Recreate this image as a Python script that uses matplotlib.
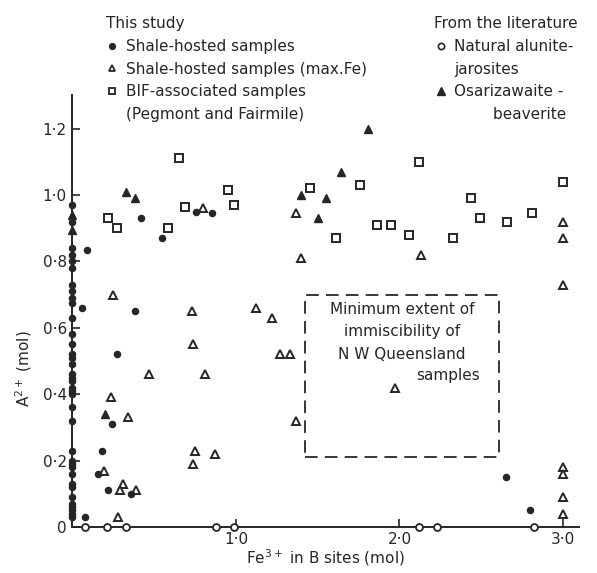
import matplotlib
matplotlib.use("Agg")
import matplotlib.pyplot as plt
from matplotlib.ticker import FuncFormatter
from matplotlib.lines import Line2D
from matplotlib.patches import Rectangle

INK = "#262626"

# This study: shale-hosted samples (filled circles)
shale_x = [0, 0, 0, 0, 0, 0, 0, 0, 0, 0, 0, 0, 0, 0, 0, 0, 0, 0, 0, 0,
           0, 0, 0, 0, 0, 0, 0, 0, 0, 0, 0, 0, 0, 0, 0, 0, 0,
           0.09, 0.06, 0.42, 0.55, 0.38, 0.755, 0.855, 0.27, 0.18, 0.24,
           0.155, 0.22, 0.36, 0.077, 2.65, 2.80]
shale_y = [0.97, 0.92, 0.84, 0.82, 0.80, 0.78, 0.73, 0.71, 0.69, 0.675,
           0.63, 0.58, 0.55, 0.52, 0.51, 0.49, 0.46, 0.45, 0.44, 0.42,
           0.41, 0.40, 0.36, 0.32, 0.23, 0.20, 0.19, 0.18, 0.16, 0.13,
           0.12, 0.09, 0.07, 0.06, 0.05, 0.04, 0.03,
           0.835, 0.66, 0.93, 0.87, 0.65, 0.95, 0.945, 0.52, 0.23, 0.31,
           0.16, 0.11, 0.10, 0.03, 0.15, 0.05]

# This study: shale-hosted samples, max. Fe (open triangles)
maxfe_x = [0.25, 0.73, 0.74, 0.47, 0.235, 0.34, 0.19, 0.31, 0.29, 0.39,
           0.28, 0.75, 0.74, 0.87, 0.80, 1.37, 1.40, 1.12, 1.22, 1.27,
           1.33, 0.81, 1.37, 1.97, 2.13, 3.0, 3.0, 3.0, 3.0, 3.0, 3.0, 3.0]
maxfe_y = [0.70, 0.65, 0.55, 0.46, 0.39, 0.33, 0.17, 0.13, 0.11, 0.11,
           0.03, 0.23, 0.19, 0.22, 0.96, 0.945, 0.81, 0.66, 0.63, 0.52,
           0.52, 0.46, 0.32, 0.42, 0.82, 0.92, 0.87, 0.73, 0.18, 0.16,
           0.09, 0.04]

# This study: BIF-associated samples (open squares)
bif_x = [0.65, 0.22, 0.27, 0.585, 0.69, 0.95, 0.99, 1.45, 1.76, 1.61,
         1.86, 1.95, 2.12, 3.0, 2.44, 2.49, 2.66, 2.81, 2.06, 2.33]
bif_y = [1.11, 0.93, 0.90, 0.90, 0.965, 1.015, 0.97, 1.02, 1.03, 0.87,
         0.91, 0.91, 1.10, 1.04, 0.99, 0.93, 0.92, 0.945, 0.88, 0.87]

# Literature: natural alunite-jarosites (open circles)
alun_x = [0.076, 0.21, 0.33, 0.88, 0.99, 2.12, 2.23, 2.82]
alun_y = [0, 0, 0, 0, 0, 0, 0, 0]

# Literature: osarizawaite-beaverite (filled triangles)
osar_x = [0.33, 0.38, 1.81, 1.64, 1.40, 1.55, 1.50, 0.20, 0.0, 0.0]
osar_y = [1.01, 0.99, 1.20, 1.07, 1.00, 0.99, 0.93, 0.34, 0.94, 0.895]

# immiscibility box (Fe range, A range)
box_fe = [1.42, 2.61]
box_a = [0.21, 0.70]

y_ticks = [0, 0.2, 0.4, 0.6, 0.8, 1.0, 1.2]
x_ticks = [1.0, 2.0, 3.0]

plt.rcParams["font.family"] = ["DejaVu Sans"]

fig = plt.figure(figsize=(5.97, 5.73), dpi=100)
fig.set_facecolor("white")
ax = fig.add_axes([0.1077, 0.0688, 0.8764, 0.7763])
ax.set_xlim(-0.05, 3.15)
ax.set_ylim(-0.02, 1.32)

for side in ["top", "right"]:
    ax.spines[side].set_visible(False)
ax.spines["left"].set_position(("data", 0))
ax.spines["bottom"].set_position(("data", 0))
ax.spines["left"].set_bounds(0, 1.3)
ax.spines["bottom"].set_bounds(0, 3.1)
for side in ["left", "bottom"]:
    ax.spines[side].set_color(INK)
    ax.spines[side].set_linewidth(1.4)

ax.set_xticks(x_ticks)
ax.set_yticks(y_ticks)
dot_fmt = FuncFormatter(lambda v, pos: "0" if v == 0 else f"{v:.1f}".replace(".", "·"))
ax.xaxis.set_major_formatter(dot_fmt)
ax.yaxis.set_major_formatter(dot_fmt)
ax.tick_params(direction="in", length=6, width=1.2, color=INK,
               labelcolor=INK, labelsize=11)
ax.tick_params(axis="y", pad=4)
ax.tick_params(axis="x", pad=4)

ms = dict(color=INK, linestyle="none", clip_on=False)
ax.plot(shale_x, shale_y, marker="o", markersize=4.4, **ms, zorder=4)
ax.plot(maxfe_x, maxfe_y, marker="^", markersize=5.5, markerfacecolor="white",
        markeredgewidth=1.4, **ms, zorder=3)
ax.plot(bif_x, bif_y, marker="s", markersize=5.5, markerfacecolor="white",
        markeredgewidth=1.4, **ms, zorder=3)
ax.plot(alun_x, alun_y, marker="o", markersize=5, markerfacecolor="white",
        markeredgewidth=1.3, **ms, zorder=5)
ax.plot(osar_x, osar_y, marker="^", markersize=6, **ms, zorder=3)

ax.add_patch(Rectangle((box_fe[0], box_a[0]), box_fe[1] - box_fe[0],
                       box_a[1] - box_a[0], fill=False, edgecolor=INK,
                       linewidth=1.3, linestyle=(0, (7, 4))))
box_cx = (box_fe[0] + box_fe[1]) / 2
ax.text(box_cx, 0.655, "Minimum extent of", ha="center", va="center",
        fontsize=11, color=INK)
ax.text(box_cx, 0.59, "immiscibility of", ha="center", va="center",
        fontsize=11, color=INK)
ax.text(box_cx, 0.52, "N W Queensland", ha="center", va="center",
        fontsize=11, color=INK)
ax.text(box_cx + 0.28, 0.455, "samples", ha="center", va="center",
        fontsize=11, color=INK)

ax.set_xlabel("Fe$^{3+}$ in B sites (mol)", fontsize=11, color=INK)
ax.xaxis.set_label_coords(0.5, -0.03)
ax.set_ylabel("A$^{2+}$ (mol)", fontsize=11, color=INK)
ax.yaxis.set_label_coords(-0.058, 0.37)

# legends (continuation lines get a blank handle so markers sit on line one)
blank = Line2D([], [], linestyle="none")
study_handles = [
    Line2D([], [], marker="o", markersize=4.2, color=INK, linestyle="none"),
    Line2D([], [], marker="^", markersize=5, color=INK, markerfacecolor="white",
           markeredgewidth=1.3, linestyle="none"),
    Line2D([], [], marker="s", markersize=5, color=INK, markerfacecolor="white",
           markeredgewidth=1.3, linestyle="none"),
    blank,
]
study_labels = ["Shale-hosted samples", "Shale-hosted samples (max.Fe)",
                "BIF-associated samples", "(Pegmont and Fairmile)"]
leg1 = fig.legend(study_handles, study_labels, title="This study",
                  loc="upper left", bbox_to_anchor=(0.165, 0.985),
                  frameon=False, fontsize=11, title_fontsize=11,
                  handlelength=0.8, handletextpad=0.5, labelspacing=0.5,
                  borderpad=0, labelcolor=INK)
leg1._legend_box.align = "left"
leg1.get_title().set_color(INK)

lit_handles = [
    Line2D([], [], marker="o", markersize=4.5, color=INK, markerfacecolor="white",
           markeredgewidth=1.2, linestyle="none"),
    blank,
    Line2D([], [], marker="^", markersize=5.5, color=INK, linestyle="none"),
    blank,
]
lit_labels = ["Natural alunite-", "jarosites", "Osarizawaite -",
              "        beaverite"]
leg2 = fig.legend(lit_handles, lit_labels, title="From the literature",
                  loc="upper left", bbox_to_anchor=(0.715, 0.985),
                  frameon=False, fontsize=11, title_fontsize=11,
                  handlelength=0.8, handletextpad=0.5, labelspacing=0.5,
                  borderpad=0, labelcolor=INK)
leg2._legend_box.align = "left"
leg2.get_title().set_color(INK)

fig.savefig("out.png", dpi=100, facecolor="white")
